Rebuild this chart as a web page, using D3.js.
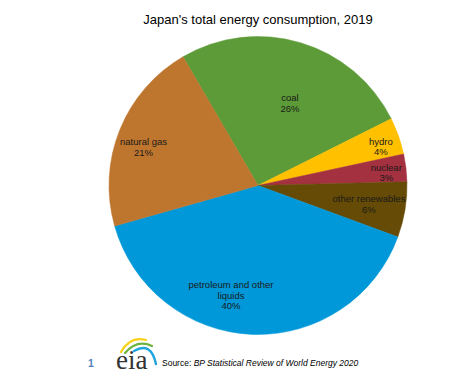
<!DOCTYPE html>
<html>
<head>
<meta charset="utf-8">
<script src="https://cdn.jsdelivr.net/npm/d3@7"></script>
<style>
  html, body { margin: 0; padding: 0; background: #fff; }
  svg { display: block; font-family: "Liberation Sans", Arial, sans-serif; }
</style>
</head>
<body>
<svg id="chart" width="459" height="386"></svg>
<script>
// ---- data ----
const title = "Japan's total energy consumption, 2019";
const categories = ["coal", "hydro", "nuclear", "other renewables", "petroleum and other liquids", "natural gas"];
const labelLines = [["coal"], ["hydro"], ["nuclear"], ["other renewables"], ["petroleum and other", "liquids"], ["natural gas"]];
const values = [26, 4, 3, 6, 40, 21];
const colors = ["#5C9B37", "#FFC000", "#A3313F", "#654B06", "#0098D8", "#BE752E"];
const sourcePrefix = "Source: ";
const sourceText = "BP Statistical Review of World Energy 2020";
const pageNumber = "1";

// ---- layout ----
const W = 459, H = 386;
const cx = 258, cy = 185.5, R = 149;
const startDeg = -30.2;
// label placement: [angle in degrees clockwise from top, fraction of radius]
const labelPolar = [[21.3, 0.59], [72.5, 0.865], [84.3, 0.865], [99.5, 0.755], [193.8, 0.76], [-71.6, 0.81]];
const fontSize = 9.5, lineH = 10.7;

const svg = d3.select("#chart");

svg.append("text")
  .attr("x", cx).attr("y", 24)
  .attr("text-anchor", "middle")
  .attr("font-size", 13)
  .attr("fill", "#000")
  .text(title);

const data = categories.map((c, i) => ({ cat: c, value: values[i], lines: labelLines[i], color: colors[i], lp: labelPolar[i] }));

const pie = d3.pie().value(d => d.value).sort(null)
  .startAngle(startDeg * Math.PI / 180)
  .endAngle((startDeg + 360) * Math.PI / 180);
const arc = d3.arc().innerRadius(0).outerRadius(R);
const arcs = pie(data);

const g = svg.append("g").attr("transform", `translate(${cx},${cy})`);
g.selectAll("path.slice").data(arcs).join("path")
  .attr("class", "slice")
  .attr("d", arc)
  .attr("fill", d => d.data.color)
  .attr("stroke", d => d.data.color)
  .attr("stroke-width", 0.5);

const pct = d3.format(".0%");
const total = d3.sum(values);
g.selectAll("text.lbl").data(arcs).join("text")
  .attr("class", "lbl")
  .attr("text-anchor", "middle")
  .attr("font-size", fontSize)
  .attr("fill", "#1a1a1a")
  .each(function(d) {
    const a = d.data.lp[0] * Math.PI / 180;
    const r = d.data.lp[1] * R;
    const x = r * Math.sin(a), y = -r * Math.cos(a);
    const lines = d.data.lines.concat([pct(d.data.value / total)]);
    const first = y - (lines.length * lineH) / 2 + lineH * 0.8;
    const t = d3.select(this);
    lines.forEach((ln, i) => {
      t.append("tspan").attr("x", x).attr("y", first + i * lineH).text(ln);
    });
  });

// ---- footer ----
svg.append("text")
  .attr("x", 88).attr("y", 367)
  .attr("font-size", 10.5)
  .attr("font-weight", "bold")
  .attr("fill", "#4F81BD")
  .text(pageNumber);

// eia logo
const logo = svg.append("g");
logo.append("path").attr("d", "M121,352 Q130,336 146,340").attr("fill", "none").attr("stroke", "#F7D117").attr("stroke-width", 2.2).attr("stroke-linecap", "round");
logo.append("path").attr("d", "M125,353 Q137,339 152,346").attr("fill", "none").attr("stroke", "#6DB33F").attr("stroke-width", 2.2).attr("stroke-linecap", "round");
logo.append("path").attr("d", "M134,351 Q151,341 156,364").attr("fill", "none").attr("stroke", "#1FA3DC").attr("stroke-width", 2.4).attr("stroke-linecap", "round");
logo.append("text")
  .attr("x", 116).attr("y", 369)
  .attr("font-family", "'Liberation Serif', 'DejaVu Serif', serif")
  .attr("font-size", 27)
  .attr("fill", "#333")
  .text("eia");

const src = svg.append("text")
  .attr("x", 162).attr("y", 366)
  .attr("font-size", 8.5)
  .attr("fill", "#000");
src.append("tspan").text(sourcePrefix);
src.append("tspan").attr("font-style", "italic").text(sourceText);
</script>
</body>
</html>
